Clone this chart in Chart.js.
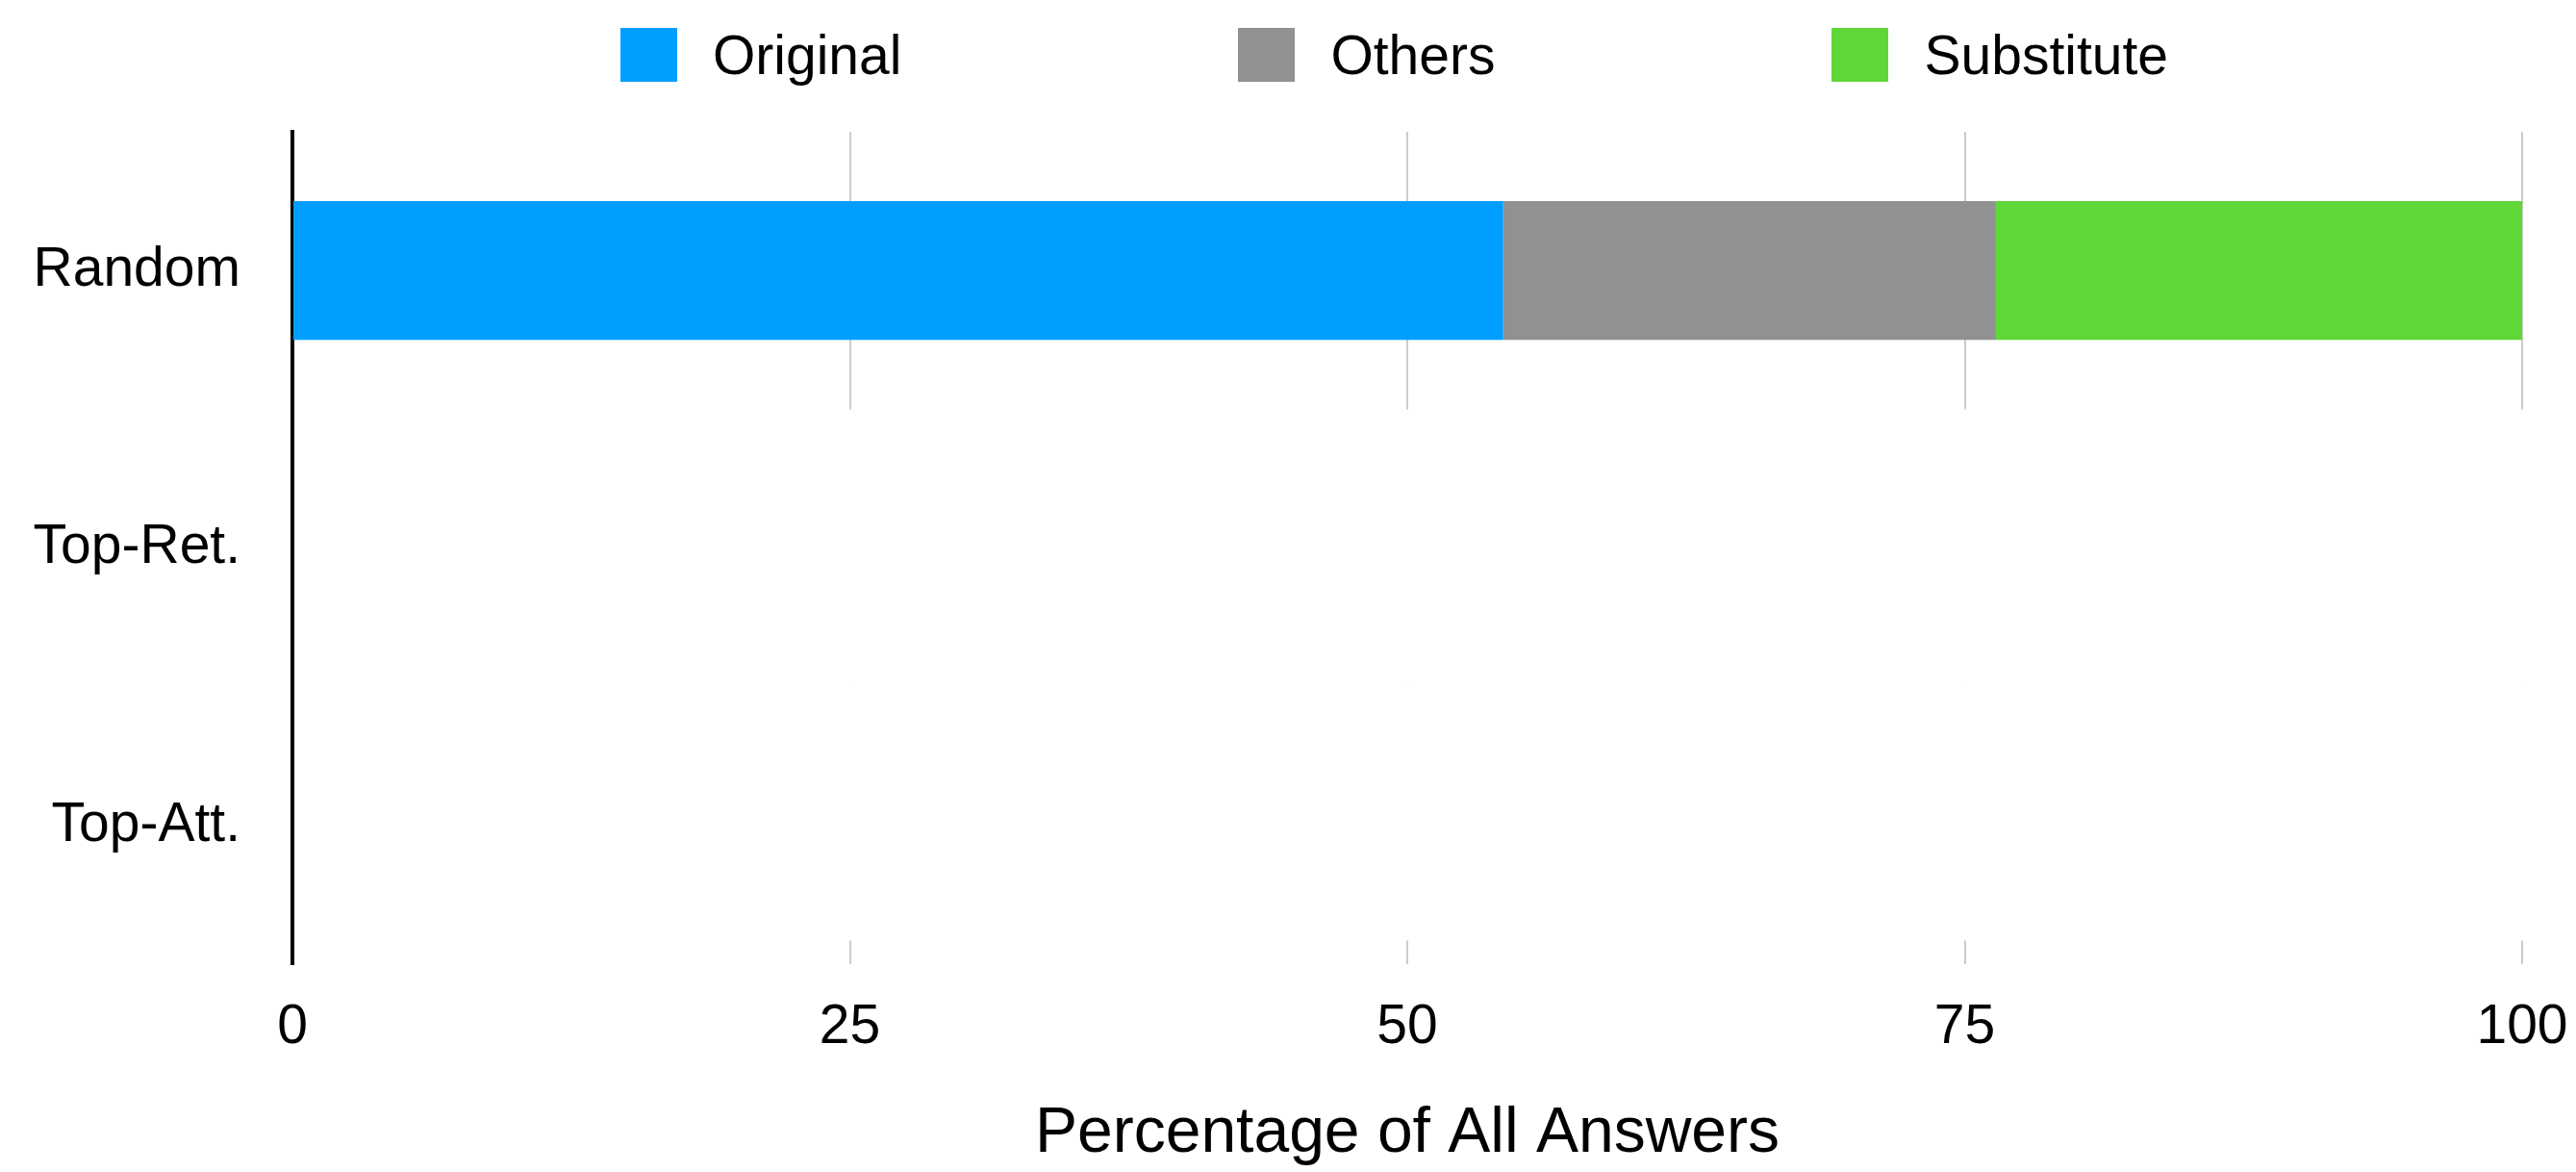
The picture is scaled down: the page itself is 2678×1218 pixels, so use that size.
<!DOCTYPE html>
<html>
<head>
<meta charset="utf-8">
<title>Percentage of All Answers</title>
<script src="https://cdn.jsdelivr.net/npm/chart.js@4"></script>
<style>
    html, body { margin: 0; padding: 0; background: #fff; }
    #wrap { position: relative; width: 2678px; height: 1218px; }
    #legend {
        position: absolute; top: 24px; left: 645px;
        display: flex; align-items: center;
        font-family: "Liberation Sans", Arial, sans-serif; font-size: 57px; color: #000;
    }
    .item { display: flex; align-items: center; margin-right: 350px; }
    .box { width: 59px; height: 56px; margin-right: 37px; }
</style>
</head>
<body>
<div id="wrap">
    <canvas id="myChart" width="2678" height="1218"></canvas>
    <div id="legend"></div>
</div>
<script>
var categories = ["Random", "Top-Ret.", "Top-Att."];
var seriesNames = ["Original", "Others", "Substitute"];
var original = [54.3, null, null];
var others = [22.1, null, null];
var substitute = [23.6, null, null];
var xTicks = [0, 25, 50, 75, 100];
var colors = ["#009fff", "#919191", "#5fd737"];

var font = "'Liberation Sans', Arial, sans-serif";

// rows without data are blanked out (gridlines hidden), as in the picture
var blankRows = {
    id: "blankRows",
    beforeDatasetsDraw: function(chart) {
        var ctx = chart.ctx;
        var area = chart.chartArea;
        var y = chart.scales.y;
        for (let i = 0; i < categories.length; i++) {
            var sum = (original[i] || 0) + (others[i] || 0) + (substitute[i] || 0);
            if (sum > 0) continue;
            var half = (y.getPixelForTick(1) - y.getPixelForTick(0)) / 2;
            var top = y.getPixelForTick(i) - half;
            var bottom = Math.min(y.getPixelForTick(i) + half, area.bottom - 25);
            ctx.save();
            ctx.fillStyle = "#fff";
            ctx.fillRect(area.left + 2, top, area.right - area.left + 4, bottom - top);
            ctx.restore();
        }
    }
};

var ctx = document.getElementById("myChart").getContext("2d");
var chart = new Chart(ctx, {
    type: "bar",
    data: {
        labels: categories,
        datasets: [{
                label: seriesNames[0],
                backgroundColor: colors[0],
                data: original
            },
            {
                label: seriesNames[1],
                backgroundColor: colors[1],
                data: others
            },
            {
                label: seriesNames[2],
                backgroundColor: colors[2],
                data: substitute
            }
        ]
    },
    options: {
        indexAxis: "y",
        responsive: false,
        animation: false,
        categoryPercentage: 1.0,
        barPercentage: 0.5,
        layout: {
            padding: { top: 137, right: 0, bottom: 0, left: 0 }
        },
        plugins: {
            legend: { display: false },
            tooltip: { enabled: false }
        },
        scales: {
            x: {
                stacked: true,
                min: 0,
                max: 100,
                afterBuildTicks: function(scale) {
                    scale.ticks = xTicks.map(v => ({ value: v }));
                },
                afterFit: function(scale) {
                    scale.paddingLeft = 0;
                    scale.paddingRight = 56;
                },
                grid: {
                    color: "#cccccc",
                    lineWidth: 2,
                    drawTicks: false
                },
                border: { display: false },
                ticks: {
                    color: "#000",
                    padding: 32,
                    maxRotation: 0,
                    font: { family: font, size: 57 }
                },
                title: {
                    display: true,
                    text: "Percentage of All Answers",
                    color: "#000",
                    padding: { top: 4, bottom: 0 },
                    font: { family: font, size: 66 }
                }
            },
            y: {
                stacked: true,
                afterFit: function(scale) {
                    scale.width = 304;
                },
                grid: { display: false, drawTicks: false },
                border: { display: true, color: "#000", width: 4 },
                ticks: {
                    color: "#000",
                    padding: 54,
                    font: { family: font, size: 57 }
                }
            }
        }
    },
    plugins: [blankRows]
});

var legend = document.getElementById("legend");
chart.data.datasets.forEach(ds => {
    var item = document.createElement("div");
    item.className = "item";
    item.innerHTML = `<span class="box" style="background:${ds.backgroundColor}"></span><span>${ds.label}</span>`;
    legend.appendChild(item);
});
</script>
</body>
</html>
